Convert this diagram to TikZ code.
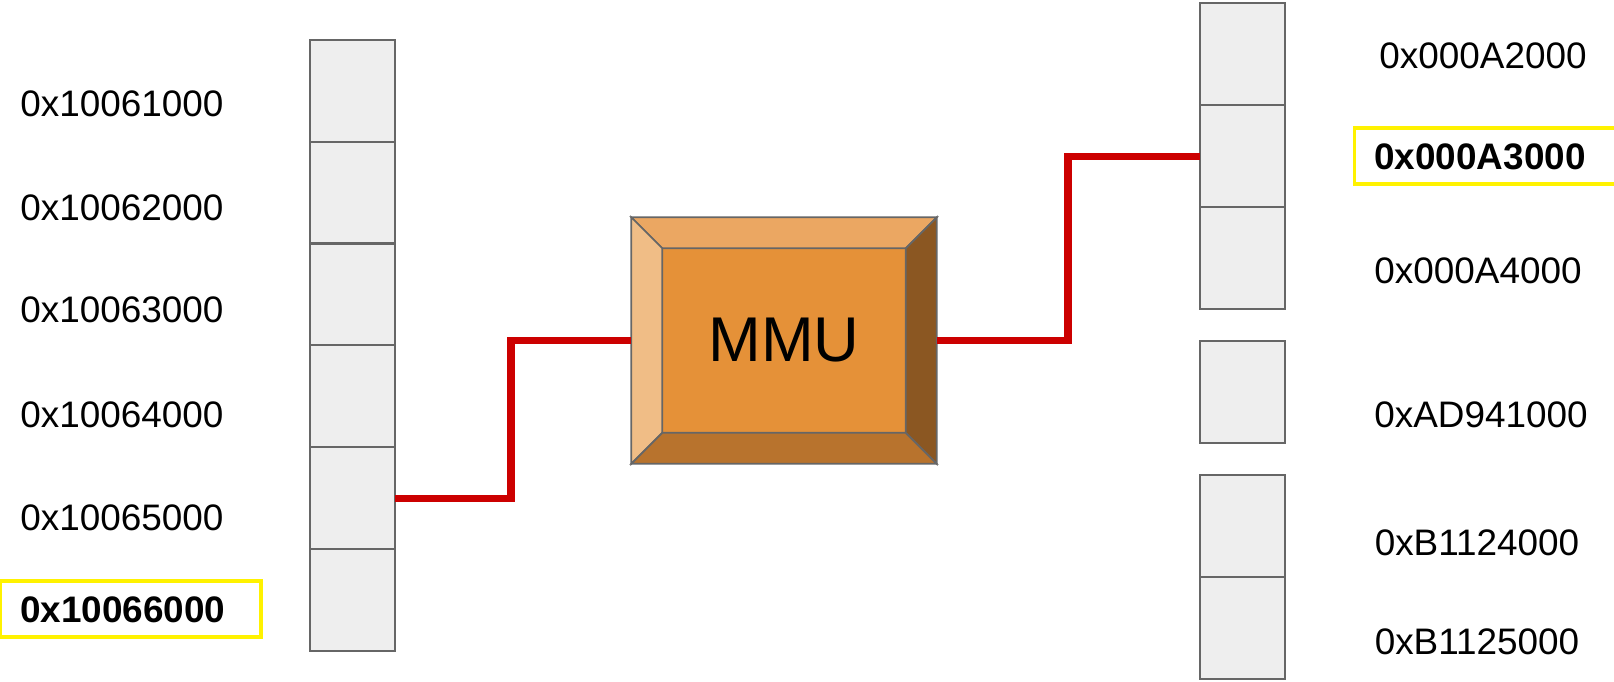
\documentclass[tikz,border=0pt]{standalone}
\usepackage{fontspec}
\setmainfont{Liberation Sans}
\usetikzlibrary{positioning,calc}

\definecolor{cellfill}{HTML}{EEEEEE}
\definecolor{cellline}{HTML}{666666}
\definecolor{linkred}{HTML}{CC0000}
\definecolor{mmumid}{HTML}{E59138}
\definecolor{mmutop}{HTML}{EBA762}
\definecolor{mmuleft}{HTML}{F0BD86}
\definecolor{mmuright}{HTML}{8B5722}
\definecolor{mmubot}{HTML}{B8732D}

\begin{document}
\begin{tikzpicture}[x=0.02cm,y=-0.02cm,
cell/.style={rectangle,draw=cellline,line width=1.2pt,fill=cellfill,minimum width=1.7cm,minimum height=2.04cm,inner sep=0pt,outer sep=0pt},
addr/.style={font=\fontsize{21}{25}\selectfont,inner sep=0pt},
hl/.style={rectangle,draw=yellow,line width=2.2pt,minimum width=5.22cm,minimum height=1.12cm,inner sep=0pt},
link/.style={draw=linkred,line width=4pt},
bevel/.style={draw=cellline,line width=1pt}]
\useasboundingbox (0,0) rectangle (1614,681);
% virtual pages
\foreach \i in {1,...,6}
  \node[cell] (l\i) at (352.5,{40+101.8*(\i-0.5)}) {};
\node[addr,anchor=west] (va1) at (20,104) {0x10061000};
\node[addr,anchor=west] (va2) at (20,208) {0x10062000};
\node[addr,anchor=west] (va3) at (20,310) {0x10063000};
\node[addr,anchor=west] (va4) at (20,415) {0x10064000};
\node[addr,anchor=west] (va5) at (20,518) {0x10065000};
\node[addr,anchor=west,font=\fontsize{21}{25}\selectfont\bfseries] (va6) at (20,610) {0x10066000};
\node[hl] (hlva) at (130.5,609) {};
% physical frames
\node[cell] (r1) at (1242.5,54.3) {};
\node[cell] (r2) at (1242.5,156.3) {};
\node[cell] (r3) at (1242.5,258.3) {};
\node[cell] (r4) at (1242.5,391.7) {};
\node[cell] (r5) at (1242.5,526) {};
\node[cell] (r6) at (1242.5,627.7) {};
\node[addr] (pa1) at (1483,56) {0x000A2000};
\node[addr,font=\fontsize{21}{25}\selectfont\bfseries] (pa2) at (1480,157) {0x000A3000};
\node[addr] (pa3) at (1478,271) {0x000A4000};
\node[addr] (pa4) at (1481,415) {0xAD941000};
\node[addr] (pa5) at (1477,543) {0xB1124000};
\node[addr] (pa6) at (1477,642) {0xB1125000};
\node[hl] (hlpa) at (1485,156) {};
% mmu
\node[rectangle,fill=mmumid,bevel,minimum width=6.08cm,minimum height=4.9cm,inner sep=0pt] (mmu) at (784,340.5) {};
\coordinate (inw) at ($(mmu.north west)+(31,31)$);
\coordinate (ine) at ($(mmu.north east)+(-31,31)$);
\coordinate (ise) at ($(mmu.south east)+(-31,-31)$);
\coordinate (isw) at ($(mmu.south west)+(31,-31)$);
\filldraw[bevel,fill=mmutop] (mmu.north west) -- (mmu.north east) -- (ine) -- (inw) -- cycle;
\filldraw[bevel,fill=mmuleft] (mmu.north west) -- (inw) -- (isw) -- (mmu.south west) -- cycle;
\filldraw[bevel,fill=mmuright] (mmu.north east) -- (mmu.south east) -- (ise) -- (ine) -- cycle;
\filldraw[bevel,fill=mmubot] (mmu.south west) -- (isw) -- (ise) -- (mmu.south east) -- cycle;
\node[font=\fontsize{36}{42}\selectfont] (mmutext) at (mmu) {MMU};
% links
\coordinate (lbend) at (511,420);
\coordinate (rbend) at (1068,250);
\draw[link] (l5.east) -| (lbend) |- (mmu.west);
\draw[link] (mmu.east) -| (rbend) |- (r2.west);
\end{tikzpicture}
\end{document}
